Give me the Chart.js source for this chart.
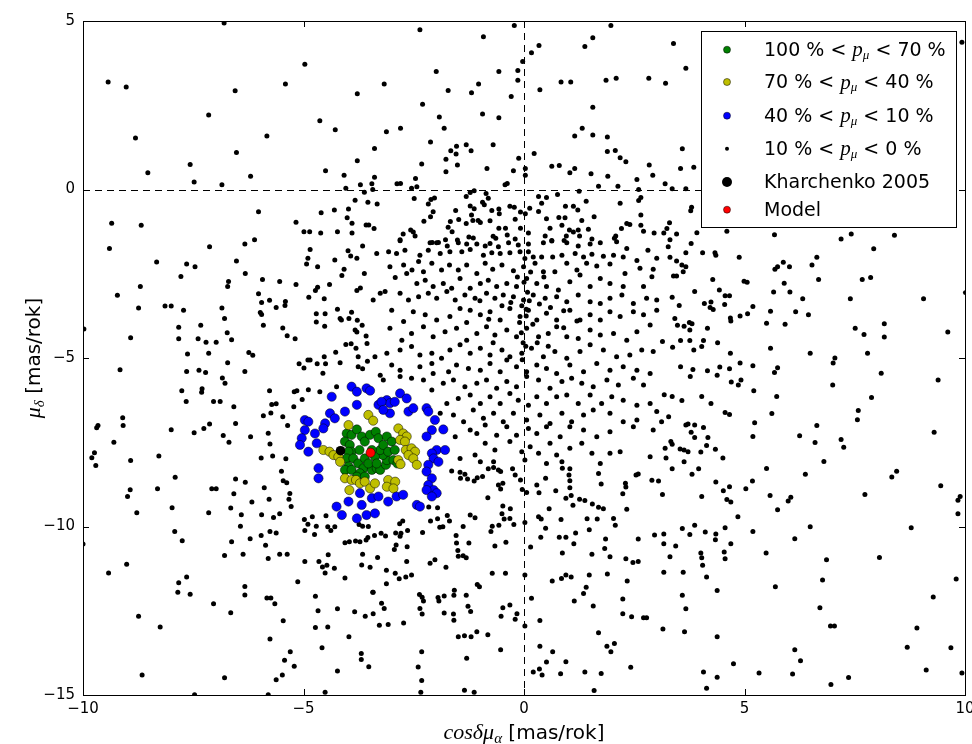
<!DOCTYPE html>
<html>
<head>
<meta charset="utf-8">
<script src="https://cdn.jsdelivr.net/npm/chart.js@4.4.0/dist/chart.umd.min.js"></script>
<style>
  html, body { margin: 0; padding: 0; background: #fff; }
  #wrap { width: 972px; height: 744px; }
</style>
</head>
<body>
<div id="wrap"><canvas id="chart" width="972" height="744"></canvas></div>
<script>
// axis setup
const xTicks = [-10, -5, 0, 5, 10];
const yTicks = [5, 0, -5, -10, -15];

// membership probability groups (x = cos(delta) mu_alpha, y = mu_delta, mas/rok)
const green = [[-4.02,-7.24],[-3.91,-7.28],[-3.79,-7.12],[-4.06,-7.48],[-3.95,-7.58],[-3.91,-7.78],[-3.73,-7.73],[-3.98,-7.78],
  [-4.02,-7.98],[-3.87,-7.98],[-3.76,-8.13],[-3.98,-8.22],[-4.06,-8.32],[-3.91,-8.32],[-3.64,-8.27],[-3.72,-8.42],[-3.79,-8.52],
  [-3.61,-8.52],[-3.45,-8.32],[-3.34,-8.27],[-3.26,-8.32],[-3.13,-8.17],[-3.11,-8.03],[-3.20,-7.88],[-3.38,-7.93],[-3.26,-7.73],
  [-3.45,-7.73],[-3.61,-7.98],[-3.68,-7.33],[-3.61,-7.48],[-3.49,-7.28],[-3.36,-7.19],[-3.30,-7.38],[-3.11,-7.33],[-3.00,-7.48],
  [-3.19,-7.58],[-3.08,-7.78],[-2.93,-7.73],[-2.96,-8.03],[-2.87,-8.13],[-3.53,-8.13],[-3.34,-8.13]];

const yellow = [[-3.98,-6.99],[-3.53,-6.69],[-3.42,-6.86],[-2.85,-7.09],[-2.74,-7.24],[-2.66,-7.33],[-2.81,-7.43],[-2.70,-7.48],
  [-2.68,-7.73],[-2.55,-7.68],[-2.47,-7.78],[-2.62,-7.88],[-2.51,-7.98],[-2.43,-8.17],[-4.55,-7.73],[-4.41,-7.78],[-4.32,-7.88],
  [-4.21,-7.93],[-4.17,-8.08],[-4.06,-8.57],[-3.91,-8.62],[-3.81,-8.62],[-3.72,-8.72],[-3.61,-8.67],[-3.49,-8.87],[-3.38,-8.72],
  [-3.96,-8.92],[-3.08,-8.62],[-3.11,-8.82],[-2.92,-8.67],[-2.96,-8.87],[-2.85,-8.03],[-2.80,-8.15]];

const blue = [[-3.91,-5.85],[-3.79,-6.00],[-3.57,-5.90],[-3.49,-5.97],[-4.36,-6.15],[-3.79,-6.39],[-4.06,-6.59],[-4.40,-6.64],
  [-4.29,-6.79],[-4.97,-6.84],[-4.89,-6.89],[-4.51,-6.94],[-4.74,-7.24],[-4.97,-7.14],[-5.04,-7.38],[-5.08,-7.58],[-4.89,-7.78],
  [-4.70,-7.53],[-4.55,-7.09],[-4.66,-8.27],[-4.66,-8.57],[-3.98,-9.26],[-3.72,-9.01],[-3.68,-9.36],[-3.45,-9.16],[-4.25,-9.41],
  [-4.13,-9.66],[-3.79,-9.76],[-3.57,-9.66],[-3.38,-9.61],[-3.30,-9.11],[-3.08,-9.26],[-2.89,-9.11],[-2.74,-9.06],[-3.11,-6.25],
  [-3.04,-6.34],[-2.93,-6.30],[-2.81,-6.05],[-2.66,-6.20],[-2.62,-6.59],[-2.51,-6.49],[-2.21,-6.49],[-2.17,-6.59],[-2.02,-6.84],
  [-1.83,-7.12],[-2.09,-7.14],[-2.21,-7.33],[-1.98,-7.73],[-1.79,-7.73],[-2.09,-7.83],[-2.05,-7.98],[-1.94,-8.08],[-2.17,-8.17],
  [-2.21,-8.37],[-2.09,-8.57],[-2.17,-8.77],[-2.05,-8.92],[-1.98,-9.01],[-2.21,-8.92],[-2.09,-9.11],[-2.43,-9.36],[-2.36,-9.41],
  [-3.30,-6.39],[-3.23,-6.30],[-3.04,-6.64],[-3.19,-6.54]];

const fieldTop = [[-9.43,3.19],[-9.02,3.04],[-6.80,4.94],[-4.97,3.72],[-5.41,3.13],[-6.55,2.93],[-3.78,2.84],[-7.15,2.21],
  [-4.63,2.04],[-4.28,1.77],[-8.81,1.53],[-5.83,1.59],[-6.52,1.10],[-3.78,0.85],[-7.57,0.74],[-8.53,0.50],[-4.50,0.56],
  [-4.08,0.42],[-6.20,0.39],[-7.48,0.22],[-6.85,0.14],[-3.71,0.14],[-4.04,0.04],[-3.62,-0.08],[-3.83,-0.32],[-3.54,-0.38],
  [-6.02,-0.66],[-4.60,-0.69],[-4.30,-0.61],[-3.98,-0.58],[-4.01,-0.84],[-9.35,-1.00],[-8.68,-1.06],[-5.17,-0.97],[-4.99,-1.25],
  [-4.86,-1.25],[-4.61,-1.29],[-4.23,-1.25],[-3.90,-1.00],[-3.90,-1.29],[-3.58,-1.05],[-3.52,-1.05],[-6.11,-1.49],
  [-2.36,4.74],[-0.92,4.53],[-0.22,4.87],[1.97,4.87],[1.56,4.50],[1.38,4.24],[0.34,4.27],[0.17,4.06],[-0.03,3.80],[-0.14,3.53],
  [-0.14,3.24],[-0.57,3.50],[-1.99,3.50],[-3.17,3.13],[-1.72,2.94],[-1.19,2.87],[-1.03,3.13],[-0.29,2.76],[0.36,2.96],[0.84,3.19],
  [1.06,3.19],[1.86,3.24],[2.09,3.30],[2.83,3.30],[-2.30,2.53],[1.56,2.44],[-1.92,2.15],[-0.94,2.24],[-0.57,2.13],[-1.81,1.82],
  [-2.80,1.82],[-3.12,1.71],[1.32,1.82],[1.15,1.59],[1.56,1.62],[1.89,1.56],[-3.39,1.22],[-2.12,1.41],[-1.31,1.33],[-0.70,1.33],
  [-1.66,1.15],[-1.53,1.28],[-1.54,1.05],[-1.20,1.15],[1.89,1.13],[2.07,1.16],[2.18,0.94],[2.31,0.82],[2.84,0.73],[2.92,0.42],
  [-1.77,0.90],[-1.51,0.73],[-2.32,0.76],[-1.77,0.53],[-0.84,0.62],[-0.12,0.93],[0.23,1.07],[-0.24,0.56],[0.03,0.62],[0.03,0.42],
  [0.63,0.69],[0.80,0.71],[1.15,0.62],[1.04,0.50],[1.52,0.47],[1.90,0.39],[1.69,0.10],[2.13,0.10],[2.56,0.30],[2.60,0.00],
  [-3.39,0.36],[-3.45,0.17],[-3.43,0.00],[-3.33,-0.43],[-3.40,-1.16],[-2.88,0.17],[-2.80,0.18],[-2.55,0.04],[-2.43,0.08],
  [-2.46,0.33],[-2.49,-0.27],[-2.17,-0.43],[-2.11,-0.30],[-2.03,-0.25],[-2.06,-0.66],[-2.12,-0.81],[-2.27,-0.94],[-2.57,-1.20],
  [-2.51,-1.26],[-2.74,-1.32],[-2.81,-1.49],[-2.47,-1.38],[-1.31,-0.21],[-1.22,-0.09],[-1.13,-0.04],[-0.86,-0.12],[-0.81,-0.26],
  [-0.38,0.18],[-0.43,0.14],[-1.22,-0.49],[-1.13,-0.57],[-0.94,-0.38],[-0.90,-0.45],[-1.55,-0.62],[-1.19,-0.76],[-1.04,-0.92],
  [-1.16,-0.92],[-0.99,-0.98],[-1.31,-1.01],[-1.48,-0.89],[-1.67,-0.95],[-1.72,-1.12],[-1.63,-1.25],[-1.51,-1.50],[-1.78,-1.49],
  [-1.94,-1.57],[-2.08,-1.57],[-1.25,-1.41],[-1.15,-1.44],[-0.73,-0.62],[-0.57,-0.58],[-0.56,-0.72],[-0.77,-0.93],[-0.57,-1.15],
  [-0.42,-1.15],[-0.70,-1.39],[-0.64,-1.45],[-0.38,-1.35],[-0.20,-1.47],[-0.32,-0.50],[-0.22,-0.53],[-0.20,-0.88],[-0.08,-0.67],
  [0.03,-0.72],[-0.08,-1.15],[0.10,-1.29],[0.13,-0.56],[0.33,-0.21],[0.40,-0.41],[0.51,-0.24],[0.33,-0.65],[0.51,-0.87],
  [0.59,-1.15],[0.48,-1.38],[0.63,-1.51],[0.76,-0.15],[0.94,-0.50],[1.12,-0.50],[1.22,-0.61],[0.79,-0.83],[0.93,-0.84],
  [0.86,-1.06],[1.03,-1.20],[1.12,-1.26],[1.23,-1.20],[1.31,-0.92],[1.41,-0.35],[1.25,-0.05],[1.59,-0.81],[1.46,-1.18],
  [0.96,-1.38],[0.91,-1.51],[1.26,-1.38],[1.54,-1.47],[2.18,-0.41],[2.65,-0.24],[2.60,-0.33],[2.65,-0.76],[2.33,-1.01],
  [2.40,-1.04],[2.21,-1.16],[2.65,-1.06],[2.71,-1.24],[2.08,-1.38],[2.05,-1.45],[2.95,-1.29],
  [3.39,4.33],[3.67,3.60],[3.21,3.15],[3.59,1.21],[3.55,0.62],[3.85,0.66],[3.20,0.17],[3.36,0.02],[3.67,0.02],[3.80,-0.53],
  [3.78,-0.63],[3.30,-0.99],[3.24,-1.16],[3.17,-1.29],[3.46,-1.32],[3.31,-1.49],[3.92,-1.28],[4.60,-1.24],[5.68,-1.34],
  [7.42,-1.32],[8.40,-1.36],[7.19,-1.47],[9.93,4.37]];

const fieldLeft = [[-9.40,-1.75],[-7.13,-1.70],[-6.33,-1.62],[-4.85,-1.78],[-3.99,-1.82],[-3.93,-1.97],[-3.79,-2.04],[-3.66,-1.68],
  [-4.90,-2.04],[-4.93,-2.21],[-4.68,-2.29],[-4.29,-2.09],[-8.33,-2.15],[-7.65,-2.21],[-7.46,-2.29],[-6.52,-2.12],[-6.32,-2.49],
  [-7.78,-2.58],[-4.08,-2.37],[-4.13,-2.55],[-3.62,-2.49],[-8.70,-2.88],[-9.22,-3.14],[-8.74,-3.52],[-8.14,-3.46],[-8.00,-3.46],
  [-7.72,-3.58],[-6.70,-2.73],[-6.72,-2.88],[-5.93,-2.67],[-5.54,-2.73],[-5.17,-2.82],[-4.68,-2.90],[-4.73,-3.00],[-4.41,-2.82],
  [-3.79,-3.00],[-3.71,-2.92],[-6.02,-3.09],[-5.95,-3.35],[-5.77,-3.29],[-5.62,-3.50],[-5.42,-3.44],[-5.41,-3.32],[-4.88,-3.20],
  [-4.53,-3.24],[-6.85,-3.52],[-5.98,-3.65],[-5.95,-3.71],[-6.79,-3.83],[-7.33,-4.03],[-7.83,-4.09],[-7.83,-4.43],[-7.39,-4.43],
  [-7.21,-4.53],[-6.98,-4.53],[-6.73,-4.25],[-6.63,-4.46],[-5.91,-4.03],[-5.47,-4.11],[-5.37,-4.34],[-5.19,-4.43],[-4.71,-3.69],
  [-4.71,-3.93],[-4.51,-3.69],[-4.52,-4.06],[-4.23,-3.55],[-4.17,-3.83],[-4.14,-3.87],[-3.91,-3.64],[-3.97,-3.83],[-3.78,-3.88],
  [-3.67,-4.03],[-3.83,-4.17],[-3.79,-4.23],[-3.58,-4.35],[-3.56,-4.57],[-4.04,-4.60],[-3.92,-4.58],[-3.81,-4.71],[-4.27,-4.83],
  [-8.92,-4.40],[-9.98,-4.14],[-7.63,-4.88],[-7.15,-4.86],[-6.24,-4.84],[-6.15,-4.92],[-6.72,-5.14],[-9.16,-5.35],[-7.65,-5.40],
  [-7.37,-5.36],[-7.22,-5.43],[-6.33,-5.40],[-6.84,-5.59],[-6.78,-5.75],[-7.76,-5.97],[-7.66,-6.29],[-7.30,-5.91],[-7.31,-6.02],
  [-7.04,-6.29],[-6.89,-6.29],[-6.58,-6.45],[-5.77,-5.97],[-5.21,-6.00],[-5.15,-5.97],[-5.10,-5.17],[-4.90,-5.06],[-4.85,-5.06],
  [-4.99,-5.30],[-4.69,-5.17],[-4.50,-5.17],[-4.53,-4.96],[-4.56,-5.45],[-4.17,-5.14],[-3.76,-4.96],[-3.76,-5.26],[-3.66,-5.32],
  [-3.55,-5.10],[-4.89,-5.94],[-4.63,-6.00],[-4.25,-5.85],[-5.03,-6.23],[-5.22,-6.45],[-5.72,-6.38],[-5.62,-6.36],[-5.91,-6.71],
  [-5.74,-6.63],[-5.47,-6.74],[-5.36,-7.00],[-9.10,-6.77],[-9.09,-7.00],[-9.66,-7.00],[-9.69,-7.07],[-8.00,-7.13],[-7.48,-7.22],
  [-7.26,-7.09],[-7.13,-6.96],[-6.54,-6.94],[-6.82,-7.30],[-6.69,-7.50],[-6.20,-7.34],[-5.80,-7.23],[-5.76,-7.55],[-9.30,-7.50],
  [-9.74,-7.81],[-9.80,-7.96],[-8.92,-8.04],[-8.28,-7.91],[-5.96,-7.97],[-5.70,-7.91],[-5.40,-7.99]];

const fieldCore = [[-2.81,-1.52],[-2.13,-1.58],[-1.98,-1.58],[-1.74,-1.68],[-1.49,-1.58],[-1.30,-1.62],[-1.07,-1.62],[-0.88,-1.68],
  [-0.77,-1.60],[-0.58,-1.70],[-0.35,-1.58],[-0.13,-1.65],[0.10,-1.62],[0.44,-1.58],[0.63,-1.53],[0.97,-1.58],[1.23,-1.68],
  [1.50,-1.62],[1.73,-1.58],[2.10,-1.55],[2.33,-1.75],[2.81,-1.80],[-3.34,-1.90],[-3.07,-1.85],[-2.89,-1.90],[-2.70,-1.80],
  [-2.36,-1.95],[-2.17,-1.80],[-1.90,-1.90],[-1.68,-1.85],[-1.41,-1.85],[-1.22,-1.78],[-0.92,-1.95],[-0.73,-1.88],[-0.54,-1.90],
  [-0.32,-1.88],[-0.09,-1.85],[0.21,-2.00],[0.40,-2.00],[0.65,-2.00],[0.86,-1.95],[1.16,-1.90],[1.35,-2.00],[1.54,-1.92],
  [1.80,-1.98],[2.03,-1.95],[2.25,-2.00],[2.56,-2.11],[3.01,-2.04],
  [-3.04,-2.29],[-2.73,-2.24],[-2.54,-2.39],[-2.39,-2.14],[-2.28,-2.44],[-2.09,-2.19],[-1.87,-2.39],[-1.69,-2.24],[-1.49,-2.39],
  [-1.30,-2.24],[-1.07,-2.49],[-0.88,-2.19],[-0.71,-2.37],[-0.50,-2.24],[-0.24,-2.41],[-0.01,-2.29],[0.25,-2.19],[0.44,-2.44],
  [0.70,-2.44],[0.97,-2.19],[1.20,-2.39],[1.42,-2.19],[1.65,-2.27],[1.95,-2.21],[2.29,-2.49],[2.63,-2.34],[2.93,-2.37],
  [-3.26,-3.08],[-2.92,-2.61],[-2.66,-2.49],[-2.43,-2.79],[-2.24,-2.69],[-2.06,-2.88],[-1.83,-2.79],[-1.64,-2.93],[-1.45,-2.64],
  [-1.22,-2.93],[-0.99,-2.79],[-0.81,-2.69],[-0.62,-2.88],[-0.39,-2.79],[-0.17,-2.88],[0.06,-2.64],[0.29,-2.79],[0.51,-2.88],
  [0.78,-2.98],[1.04,-2.74],[1.27,-2.54],[1.50,-2.88],[1.73,-2.64],[1.95,-2.79],[2.25,-2.88],[2.71,-2.88],[2.90,-2.59],
  [-3.42,-3.28],[-3.15,-3.03],[-2.81,-3.08],[-2.62,-3.28],[-2.39,-3.18],[-2.17,-3.08],[-1.98,-3.23],[-1.75,-3.03],[-1.56,-3.28],
  [-1.34,-3.13],[-1.11,-3.23],[-0.85,-3.08],[-0.66,-3.23],[-0.47,-3.13],[-0.24,-3.18],[-0.01,-3.28],[0.21,-3.13],[0.48,-3.23],
  [0.74,-3.18],[0.97,-3.33],[1.23,-3.13],[1.50,-3.33],[1.73,-3.38],[1.95,-3.23],[2.22,-3.13],[2.48,-3.38],[2.78,-3.23],[3.01,-3.28],
  [-3.00,-3.58],[-2.73,-3.92],[-2.51,-3.63],[-2.24,-3.72],[-1.98,-3.87],[-1.68,-3.77],[-1.45,-3.53],[-1.22,-3.58],[-0.99,-3.72],
  [-0.77,-3.63],[-0.54,-3.87],[-0.32,-3.53],[-0.09,-3.77],[0.10,-3.58],[0.29,-3.87],[0.51,-3.67],[0.74,-3.87],[1.04,-3.58],
  [1.27,-3.87],[1.50,-3.72],[1.73,-3.87],[1.95,-3.63],[2.18,-3.77],[2.48,-3.63],[2.71,-3.72],[3.01,-3.58],
  [-3.04,-4.12],[-2.77,-4.47],[-2.55,-4.27],[-2.28,-4.07],[-2.06,-4.37],[-1.79,-4.22],[-1.53,-4.12],[-1.30,-4.47],[-1.07,-4.27],
  [-0.85,-4.07],[-0.66,-4.32],[-0.39,-4.17],[-0.17,-4.37],[0.06,-4.12],[0.33,-4.37],[0.55,-4.27],[0.74,-4.07],[0.97,-4.37],
  [1.23,-4.42],[1.50,-4.17],[1.73,-4.32],[2.03,-4.27],[2.33,-4.47],[2.56,-4.22],[2.86,-4.02],
  [-0.05,-3.45],[0.05,-3.55],[0.12,-3.30],[-0.10,-3.95],[0.20,-4.00],[0.35,-3.40],[-0.30,-3.35],[0.15,-2.45],[-0.15,-2.60],[0.45,-2.60],
  [0.02,-2.05],[0.00,-2.75],[0.08,-3.05],[-0.02,-4.55],[0.04,-4.65],[-0.04,-5.05],[0.05,-3.75],[-0.06,-4.25],[0.10,-1.85],
  [0.30,-4.55],[-0.50,-3.45],[-0.80,-3.85],[0.60,-3.50],[0.90,-3.60],[-1.00,-3.30],[1.20,-3.90],[-1.30,-3.95],[0.90,-4.10],
  [-0.70,-4.55],[0.55,-4.65],
  [-3.38,-4.96],[-3.11,-4.86],[-2.81,-4.76],[-2.55,-4.66],[-2.36,-4.91],[-2.09,-4.86],[-1.87,-5.01],[-1.68,-4.76],[-1.45,-4.61],
  [-1.22,-4.86],[-0.99,-4.71],[-0.77,-4.91],[-0.50,-4.76],[-0.32,-4.96],[-0.05,-4.86],[0.17,-4.71],[0.44,-4.96],[0.70,-4.81],
  [0.97,-5.01],[1.27,-4.81],[1.50,-4.61],[1.80,-4.76],[2.10,-4.96],[2.40,-4.91],[2.67,-4.76],[2.93,-4.81],
  [-3.26,-5.51],[-3.00,-5.21],[-2.81,-5.36],[-2.36,-5.26],[-2.09,-5.16],[-1.71,-5.41],[-1.53,-5.21],[-1.26,-5.31],[-0.99,-5.36],
  [-0.77,-5.16],[-0.54,-5.41],[-0.39,-5.06],[-0.17,-5.26],[0.06,-5.41],[0.29,-5.21],[0.51,-5.31],[0.74,-5.46],[1.04,-5.21],
  [1.35,-5.41],[1.65,-5.16],[1.95,-5.36],[2.25,-5.26],[2.56,-5.36],[2.86,-5.46],
  [-3.19,-5.65],[-2.81,-5.55],[-2.55,-5.60],[-2.28,-5.65],[-2.06,-5.46],[-1.83,-5.75],[-1.60,-5.65],[-1.34,-5.85],[-1.07,-5.75],
  [-0.85,-5.65],[-0.62,-5.90],[-0.39,-5.70],[-0.17,-5.85],[0.06,-5.55],[0.33,-5.65],[0.59,-5.90],[0.86,-5.70],[1.08,-5.60],
  [1.31,-5.75],[1.57,-5.85],[1.88,-5.65],[2.14,-5.80],[2.48,-5.60],[2.71,-5.80],
  [-2.09,-5.95],[-1.75,-6.35],[-1.49,-6.20],[-1.22,-6.10],[-0.99,-6.35],[-0.77,-6.15],[-0.54,-6.35],[-0.32,-6.05],[-0.13,-6.25],
  [0.10,-6.40],[0.29,-6.15],[0.51,-6.35],[0.74,-6.15],[0.97,-6.10],[1.23,-6.35],[1.50,-6.10],[1.76,-6.35],[1.99,-6.15],
  [2.25,-6.25],[2.56,-6.40],[2.86,-6.35],
  [-1.90,-6.64],[-1.60,-6.69],[-1.37,-6.89],[-1.15,-6.54],[-0.92,-6.79],[-0.69,-6.64],[-0.47,-6.89],[-0.24,-6.64],[0.06,-6.84],
  [0.36,-6.69],[0.59,-6.94],[0.86,-6.64],[1.08,-6.89],[1.35,-6.69],[1.57,-6.54],[1.95,-6.64],[2.25,-6.89],[2.56,-6.84],[3.01,-6.59],
  [-1.56,-7.34],[-1.22,-7.14],[-1.07,-7.24],[-0.88,-6.99],[-0.62,-7.29],[-0.39,-7.04],[-0.17,-7.29],[0.10,-7.09],[0.29,-7.24],
  [0.51,-7.04],[0.82,-7.34],[1.04,-7.04],[1.35,-7.14],[1.65,-7.34],[1.95,-7.19],[2.48,-7.04],[2.93,-7.14],
  [-1.45,-7.98],[-1.11,-7.88],[-0.88,-7.53],[-0.66,-7.73],[-0.32,-7.48],[-0.05,-7.78],[0.14,-7.63],[0.33,-7.83],[0.59,-7.53],
  [0.74,-7.88],[1.04,-7.68],[1.31,-7.53],[1.54,-7.83],[1.95,-7.83],[2.18,-7.78],[2.86,-7.93],
  [-0.99,-8.08],[-0.69,-8.08],[0.02,-8.03],[0.51,-8.13],[0.86,-8.08],[1.73,-8.13]];

const fieldRight = [[3.27,-1.70],[3.79,-1.60],[3.31,-2.01],[3.46,-2.12],[3.58,-2.24],[3.67,-2.29],[3.61,-2.44],[3.67,-1.88],
  [4.05,-1.88],[4.33,-1.88],[4.35,-1.95],[4.88,-2.01],[3.39,-2.57],[3.46,-2.57],[4.28,-2.67],[3.87,-3.03],[4.43,-2.98],
  [4.56,-3.15],[4.66,-3.15],[4.99,-2.72],[5.06,-2.75],[5.69,-2.37],[5.75,-2.29],[5.88,-2.16],[6.02,-2.29],[6.53,-2.24],
  [6.64,-2.01],[6.68,-2.67],[7.93,-1.76],[7.67,-2.67],[7.86,-2.61],[5.90,-2.78],[5.66,-3.04],[6.03,-3.04],[6.32,-3.24],
  [7.40,-3.24],[9.06,-3.24],[10.01,-3.06],[3.36,-3.20],[3.52,-3.44],[4.09,-3.38],[4.24,-3.34],[4.22,-3.50],[4.29,-3.56],
  [4.55,-3.41],[5.19,-3.47],[4.90,-3.75],[5.07,-3.69],[5.59,-3.61],[5.50,-3.97],[6.16,-3.63],[6.45,-3.72],[5.92,-4.00],
  [4.68,-3.81],[4.69,-3.90],[3.42,-3.83],[3.48,-4.03],[3.63,-4.06],[3.75,-3.95],[3.81,-3.98],[3.76,-4.17],[4.16,-4.12],
  [3.14,-4.51],[3.37,-4.68],[3.55,-4.48],[3.76,-4.48],[4.07,-4.48],[3.85,-4.76],[4.03,-4.66],[4.39,-4.55],[4.68,-4.86],
  [5.59,-4.71],[7.51,-4.12],[7.71,-4.30],[8.17,-3.98],[8.17,-4.38],[7.79,-4.86],[6.49,-4.86],[7.05,-5.00],[7.01,-5.15],
  [9.61,-4.23],[3.55,-5.26],[3.83,-5.34],[3.77,-5.55],[4.16,-5.38],[4.38,-5.51],[4.44,-5.27],[4.66,-5.32],[4.90,-5.15],
  [5.19,-5.23],[4.70,-5.71],[4.86,-5.80],[4.92,-5.65],[5.21,-5.97],[5.75,-5.29],[5.68,-5.43],[5.73,-6.14],[7.00,-5.80],
  [8.10,-5.45],[9.39,-5.65],[7.88,-6.17],[7.58,-6.56],[7.56,-6.83],[3.18,-6.09],[3.36,-6.14],[3.58,-6.26],[4.03,-6.14],
  [4.24,-6.35],[3.12,-6.89],[3.28,-6.74],[4.56,-6.62],[4.66,-6.68],[3.67,-6.99],[3.72,-6.96],[3.87,-6.99],[4.07,-7.06],
  [3.79,-7.20],[3.87,-7.36],[4.17,-7.36],[4.14,-7.60],[3.33,-7.48],[3.36,-7.56],[3.20,-7.68],[3.22,-7.97],[3.54,-7.70],
  [3.63,-7.73],[3.72,-7.78],[4.01,-7.79],[4.34,-7.71],[4.51,-7.97],[3.63,-8.08],[5.23,-6.92],[5.19,-7.33],[5.62,-6.65],
  [6.64,-7.00],[6.25,-7.31],[6.60,-7.51],[7.19,-7.42],[7.25,-7.65],[6.80,-8.07],[9.30,-7.20]];

const fieldBottom = [[-9.71,-8.19],[-7.91,-8.54],[-8.93,-8.91],[-8.99,-9.11],[-8.31,-8.88],[-8.78,-9.59],[-7.98,-9.44],
  [-7.08,-8.88],[-6.98,-8.88],[-7.15,-9.59],[-7.92,-10.15],[-7.75,-10.42],[-10.00,-10.52],[-9.01,-11.12],[-9.42,-11.38],
  [-7.83,-11.67],[-7.65,-11.50],[-7.85,-11.95],[-7.57,-12.01],[-8.74,-12.66],[-8.25,-12.98],[-8.66,-14.41],[-7.04,-12.29],
  [-6.79,-10.86],[-6.65,-12.56],[-6.79,-14.49],[-6.63,-10.45],[-6.54,-8.59],[-6.58,-9.03],[-6.32,-8.69],[-6.65,-9.45],
  [-6.41,-9.65],[-6.43,-9.99],[-6.17,-9.27],[-6.21,-10.36],[-6.37,-10.82],[-6.33,-11.78],[-6.33,-12.03],[-5.89,-8.85],
  [-5.78,-9.19],[-5.95,-9.65],[-5.68,-9.73],[-5.54,-9.62],[-5.50,-8.36],[-5.46,-8.64],[-5.38,-8.70],[-5.31,-9.02],[-5.33,-9.19],
  [-5.28,-9.41],[-5.96,-10.27],[-5.86,-10.56],[-5.76,-10.15],[-5.62,-10.19],[-5.80,-10.95],[-5.54,-10.82],[-5.37,-10.82],
  [-5.83,-12.12],[-5.74,-12.12],[-5.65,-12.29],[-5.46,-12.80],[-5.76,-13.34],[-5.30,-13.72],[-5.43,-13.97],[-5.21,-14.15],
  [-5.48,-14.41],[-5.62,-14.55],[-5.13,-11.64],[-4.98,-9.79],[-4.90,-9.93],[-4.80,-9.71],[-4.97,-10.12],[-4.75,-10.24],
  [-4.71,-9.99],[-4.49,-9.68],[-4.45,-10.01],[-4.38,-10.12],[-4.29,-10.01],[-4.44,-10.84],[-4.97,-11.04],[-4.65,-11.04],
  [-4.57,-11.20],[-4.47,-11.15],[-4.51,-11.38],[-4.30,-11.24],[-4.06,-11.53],[-4.73,-12.07],[-4.67,-12.50],[-4.73,-13.00],
  [-4.45,-12.98],[-4.23,-12.44],[-4.58,-13.60],[-3.97,-13.27],[-4.23,-14.29],[-4.51,-14.92],[-3.84,-12.53],[-3.60,-12.66],
  [-3.69,-13.77],[-3.69,-13.95],[-3.52,-14.16],[-3.68,-11.14],[-3.49,-11.21],[-3.43,-11.95],[-3.66,-10.82],[-4.06,-10.48],
  [-3.96,-10.45],[-3.82,-10.43],[-3.72,-10.45],[-3.58,-10.40],[-3.54,-10.33],[-3.74,-9.94],[-3.66,-9.99],[-3.53,-10.00],
  [-7.47,-14.99],[-5.80,-14.99],
  [-1.64,-8.35],[-1.45,-8.39],[-1.34,-8.45],[-1.44,-8.57],[-1.28,-8.59],[-1.13,-8.65],[-1.06,-8.55],[-0.94,-8.52],[-0.81,-8.29],
  [-0.69,-8.25],[-0.58,-8.32],[-0.53,-8.37],[-0.26,-8.29],[-0.20,-8.47],[-0.08,-8.62],[-0.04,-8.90],[-0.58,-8.77],[-0.53,-8.89],
  [-0.48,-8.72],[0.06,-8.99],[0.29,-8.77],[0.49,-8.57],[0.34,-9.00],[0.72,-8.94],[0.87,-8.27],[1.04,-8.29],[1.04,-8.64],
  [1.02,-8.47],[1.04,-8.85],[0.95,-9.16],[1.07,-9.08],[1.11,-9.37],[1.26,-9.19],[1.38,-9.23],[1.55,-9.33],[1.69,-9.43],
  [1.80,-9.47],[1.69,-8.43],[1.75,-8.74],[2.30,-8.72],[2.31,-8.83],[2.24,-9.03],[2.54,-8.47],[2.59,-8.44],[2.90,-8.63],
  [3.05,-8.65],[2.33,-9.49],[-0.82,-9.15],[-0.48,-9.39],[-0.31,-9.47],[-0.50,-9.62],[-0.45,-9.78],[-0.32,-9.76],[-0.57,-9.96],
  [-0.23,-9.94],[-0.72,-9.99],[-0.75,-10.15],[-0.41,-10.47],[-0.66,-10.58],[0.02,-9.88],[0.33,-9.71],[0.39,-9.78],[0.57,-9.47],
  [0.49,-10.05],[0.38,-10.32],[0.15,-10.61],[0.84,-9.79],[0.80,-10.32],[0.95,-10.32],[1.17,-10.19],[1.13,-10.51],[0.87,-10.79],
  [1.43,-9.77],[1.48,-10.10],[1.66,-9.78],[2.03,-9.76],[2.07,-9.96],[1.85,-10.37],[1.83,-10.65],[1.54,-10.82],[1.95,-10.90],
  [2.31,-10.96],[2.47,-11.07],[2.59,-11.04],[2.59,-10.37],[2.96,-10.25],[0.64,-11.62],[0.85,-11.54],[0.95,-11.44],[1.07,-11.50],
  [1.48,-11.44],[1.89,-11.41],[2.34,-11.62],[1.41,-11.80],[1.35,-11.99],[1.14,-12.21],[1.57,-12.36],[2.24,-12.15],[2.24,-12.59],
  [2.44,-12.68],[2.71,-12.71],[2.78,-12.71],[0.17,-12.13],[0.36,-12.79],[0.02,-11.44],[0.02,-12.95],[1.69,-13.15],[1.88,-13.55],
  [2.05,-13.47],[1.97,-13.72],[0.36,-13.55],[0.65,-13.72],[0.51,-14.02],[0.21,-14.32],[0.35,-14.23],[0.41,-14.41],[0.83,-14.37],
  [0.95,-14.01],[1.38,-14.32],[1.75,-14.36],[2.42,-14.18],[1.59,-14.87],[-0.72,-11.39],[-0.42,-11.39],[-1.06,-11.72],
  [-1.01,-11.79],[-0.48,-12.41],[-0.32,-12.33],[-0.16,-12.59],[-0.20,-12.75],[-0.52,-12.66],[-0.82,-13.21],[-0.53,-13.66],
  [-1.30,-13.91],[-1.35,-14.86],[-1.13,-14.92],[-1.07,-13.12],[-1.20,-13.27],[-1.35,-13.24],[-1.49,-13.27],[-1.60,-12.60],
  [-1.59,-12.78],[-1.81,-12.57],[-1.31,-12.04],[-1.27,-12.37],[-1.21,-12.52],[-1.58,-11.89],[-1.59,-12.04],[-1.81,-12.06],
  [-1.95,-12.11],[-1.93,-12.21],[-2.28,-12.21],[-2.37,-12.02],[-2.31,-12.10],[-2.36,-12.43],[-2.31,-12.60],[-2.32,-13.72],
  [-2.40,-14.17],[-2.32,-14.57],[-2.34,-14.92],[-2.73,-12.86],[-3.08,-12.91],[-3.28,-12.93],[-3.42,-12.59],[-3.17,-12.43],
  [-3.23,-12.28],[-3.42,-11.95],[-3.12,-11.70],[-2.92,-11.39],[-2.83,-11.55],[-2.68,-11.50],[-2.55,-11.44],[-3.32,-10.92],
  [-3.12,-11.30],[-2.66,-11.04],[-2.94,-10.68],[-2.90,-10.55],[-2.65,-10.60],[-3.39,-10.27],[-3.24,-10.20],[-3.14,-10.28],
  [-2.91,-10.19],[-2.81,-10.29],[-2.79,-10.20],[-2.64,-10.12],[-2.30,-10.18],[-2.13,-11.09],[-2.02,-10.99],[-1.77,-11.21],
  [-1.49,-10.88],[-1.38,-10.87],[-1.31,-10.93],[-1.50,-10.71],[-1.53,-10.49],[-1.54,-10.27],[-1.25,-10.49],[-1.38,-10.00],
  [-2.12,-9.84],[-1.96,-9.77],[-1.74,-9.67],[-1.69,-9.84],[-1.91,-10.02],[-1.84,-10.01],[-2.16,-9.42],[-1.96,-9.44],
  [-1.22,-9.66],[-1.11,-9.74],[-2.82,-9.92],[-2.75,-9.84],
  [3.36,-8.29],[3.81,-8.45],[3.96,-8.29],[3.14,-9.05],[4.03,-9.11],[4.35,-8.68],[4.52,-8.94],[4.66,-8.82],[4.60,-9.20],
  [4.69,-9.27],[5.03,-8.88],[5.18,-8.65],[5.50,-8.28],[5.58,-9.08],[5.75,-9.50],[4.85,-9.71],[5.99,-9.24],[6.05,-9.13],
  [6.38,-8.45],[7.73,-9.05],[8.34,-8.53],[8.45,-8.36],[9.45,-8.79],[9.84,-9.22],[9.89,-9.11],[9.84,-9.62],[8.78,-10.04],
  [3.17,-10.22],[3.17,-10.51],[3.44,-10.58],[3.31,-10.90],[3.59,-10.06],[3.76,-10.24],[3.87,-9.96],[4.11,-10.16],[4.34,-10.39],
  [4.35,-10.22],[4.56,-10.04],[4.69,-10.51],[4.01,-10.79],[4.03,-10.93],[4.05,-11.15],[4.54,-10.76],[4.56,-10.96],[4.14,-11.50],
  [3.17,-11.36],[3.61,-11.36],[3.59,-12.04],[3.67,-12.44],[3.15,-13.04],[3.64,-13.12],[4.38,-11.90],[4.38,-13.27],[5.19,-10.15],
  [5.49,-10.79],[5.70,-11.79],[6.14,-10.36],[6.49,-10.01],[6.86,-10.99],[6.77,-11.59],[6.71,-12.41],[6.95,-12.95],[7.04,-12.95],
  [8.06,-10.92],[6.14,-13.66],[6.27,-13.98],[4.75,-14.07],[4.07,-14.32],[4.38,-14.47],[4.14,-14.80],[5.33,-14.35],[6.09,-14.38],
  [6.96,-14.69],[7.36,-14.48],[8.69,-13.58],[8.91,-13.01],[9.12,-14.26],[9.28,-12.09],[9.68,-13.60],[9.80,-11.56],[9.93,-14.35]];

const kharchenko = [[-4.16, -7.75]];
const model = [[-3.48, -7.81]];

const legendRows = [
  { parts: ['100 % < ', 'p', 'μ', ' < 70 %'], color: '#008000', r: 3.5, edge: true },
  { parts: ['70 % < ', 'p', 'μ', ' < 40 %'], color: '#bfbf00', r: 3.5, edge: true },
  { parts: ['40 % < ', 'p', 'μ', ' < 10 %'], color: '#0000ff', r: 3.5, edge: true },
  { parts: ['10 % < ', 'p', 'μ', ' < 0 %'], color: '#000000', r: 2, edge: false },
  { parts: ['Kharchenko 2005'], color: '#000000', r: 5, edge: false },
  { parts: ['Model'], color: '#ff0000', r: 3.5, edge: true }
];
const legendRowY = [49.7, 82, 115.7, 148.7, 182, 209.7];

const SANS = "'DejaVu Sans', sans-serif";
const SERIF = "'Liberation Serif', 'DejaVu Serif', serif";
const toPts = arr => arr.map(p => ({ x: p[0], y: p[1] }));
const fmt = v => (v < 0 ? '\u2212' + Math.abs(v) : String(v));

// draw text pieces: {t, font, dy}
function drawRuns(ctx, runs, x, y) {
  let cx = x;
  runs.forEach(r => {
    ctx.font = r.font;
    ctx.fillText(r.t, cx, y + (r.dy || 0));
    cx += ctx.measureText(r.t).width;
  });
}
function runsWidth(ctx, runs) {
  return runs.reduce((w, r) => { ctx.font = r.font; return w + ctx.measureText(r.t).width; }, 0);
}

const framePlugin = {
  id: 'frame',
  beforeDatasetsDraw(chart) {
    const { ctx, chartArea: a, scales: { x, y } } = chart;
    ctx.save();
    ctx.strokeStyle = '#000';
    ctx.lineWidth = 1;
    ctx.setLineDash([7, 5]);
    const x0 = Math.round(x.getPixelForValue(0)) + 0.5;
    const y0 = Math.round(y.getPixelForValue(0)) + 0.5;
    ctx.beginPath();
    ctx.moveTo(x0, a.top); ctx.lineTo(x0, a.bottom);
    ctx.moveTo(a.left, y0); ctx.lineTo(a.right, y0);
    ctx.stroke();
    ctx.restore();
  },
  afterDatasetsDraw(chart) {
    const { ctx, chartArea: a, scales: { x, y } } = chart;
    ctx.save();
    ctx.strokeStyle = '#000';
    ctx.lineWidth = 1;
    ctx.strokeRect(Math.round(a.left) + 0.5, Math.round(a.top) + 0.5,
      Math.round(a.right - a.left), Math.round(a.bottom - a.top));
    const tl = 6;
    ctx.beginPath();
    xTicks.forEach(v => {
      const px = Math.round(x.getPixelForValue(v)) + 0.5;
      ctx.moveTo(px, a.bottom); ctx.lineTo(px, a.bottom - tl);
      ctx.moveTo(px, a.top); ctx.lineTo(px, a.top + tl);
    });
    yTicks.forEach(v => {
      const py = Math.round(y.getPixelForValue(v)) + 0.5;
      ctx.moveTo(a.left, py); ctx.lineTo(a.left + tl, py);
      ctx.moveTo(a.right, py); ctx.lineTo(a.right - tl, py);
    });
    ctx.stroke();

    // axis titles
    ctx.fillStyle = '#000';
    ctx.textBaseline = 'alphabetic';
    const xr = [
      { t: 'cosδμ', font: 'italic 22px ' + SERIF },
      { t: 'α', font: 'italic 15px ' + SERIF, dy: 4 },
      { t: ' [mas/rok]', font: '20px ' + SANS }
    ];
    const xw = runsWidth(ctx, xr);
    drawRuns(ctx, xr, (a.left + a.right) / 2 - xw / 2, 739);

    const yr = [
      { t: 'μ', font: 'italic 22px ' + SERIF },
      { t: 'δ', font: 'italic 15px ' + SERIF, dy: 4 },
      { t: ' [mas/rok]', font: '20px ' + SANS }
    ];
    const yw = runsWidth(ctx, yr);
    ctx.translate(40, (a.top + a.bottom) / 2);
    ctx.rotate(-Math.PI / 2);
    drawRuns(ctx, yr, -yw / 2, 0);
    ctx.restore();
  },
  afterDraw(chart) {
    const { ctx } = chart;
    ctx.save();
    ctx.fillStyle = '#fff';
    ctx.fillRect(702, 31, 254, 196);
    ctx.strokeStyle = '#000';
    ctx.lineWidth = 1;
    ctx.strokeRect(701.5, 31.5, 255, 196);
    legendRows.forEach((row, i) => {
      const cy = legendRowY[i];
      ctx.beginPath();
      ctx.arc(727, cy, row.r, 0, Math.PI * 2);
      ctx.fillStyle = row.color;
      ctx.fill();
      if (row.edge) { ctx.strokeStyle = 'rgba(0,0,0,0.7)'; ctx.lineWidth = 0.7; ctx.stroke(); }
      ctx.fillStyle = '#000';
      ctx.textBaseline = 'middle';
      let runs;
      if (row.parts.length === 1) {
        runs = [{ t: row.parts[0], font: '19px ' + SANS }];
      } else {
        runs = [
          { t: row.parts[0], font: '19px ' + SANS },
          { t: row.parts[1], font: 'italic 21px ' + SERIF },
          { t: row.parts[2], font: 'italic 13px ' + SERIF, dy: 5 },
          { t: row.parts[3], font: '19px ' + SANS }
        ];
      }
      drawRuns(ctx, runs, 764, cy + 1);
    });
    ctx.restore();
  }
};

const coloured = (data, color, order) => ({
  data: toPts(data), backgroundColor: color, borderColor: 'rgba(0,0,0,0.7)', borderWidth: 0.7,
  pointRadius: 4.6, pointHoverRadius: 4.6, order: order, clip: 0
});

new Chart(document.getElementById('chart'), {
  type: 'scatter',
  data: {
    datasets: [
      coloured(green, '#008000', 4),
      coloured(yellow, '#bfbf00', 3),
      coloured(blue, '#0000ff', 2),
      {
        data: toPts([].concat(fieldTop, fieldLeft, fieldCore, fieldRight, fieldBottom)),
        backgroundColor: '#000', borderWidth: 0, pointRadius: 2.5, pointHoverRadius: 2.5, order: 5, clip: 0
      },
      { data: toPts(kharchenko), backgroundColor: '#000', borderWidth: 0, pointRadius: 4.8, order: 1, clip: 0 },
      { data: toPts(model), backgroundColor: '#ff0000', borderColor: 'rgba(0,0,0,0.7)', borderWidth: 0.7,
        pointRadius: 4.6, order: 0, clip: 0 }
    ]
  },
  options: {
    responsive: false,
    animation: false,
    events: [],
    layout: { padding: { left: 0, right: 7, top: 21, bottom: 0 } },
    plugins: { legend: { display: false }, tooltip: { enabled: false } },
    scales: {
      x: {
        type: 'linear', min: -10, max: 10,
        afterBuildTicks: s => { s.ticks = xTicks.map(v => ({ value: v })); },
        grid: { display: false, drawTicks: false },
        border: { display: false },
        ticks: { color: '#000', font: { family: SANS, size: 15 }, padding: 5, maxRotation: 0, autoSkip: false, callback: fmt },
        afterFit: s => { s.height = 49; s.paddingLeft = 0; s.paddingRight = 0; }
      },
      y: {
        type: 'linear', min: -15, max: 5,
        afterBuildTicks: s => { s.ticks = yTicks.map(v => ({ value: v })); },
        grid: { display: false, drawTicks: false },
        border: { display: false },
        ticks: { color: '#000', font: { family: SANS, size: 15 }, padding: 8, autoSkip: false, callback: fmt },
        afterFit: s => { s.width = 83; s.paddingTop = 0; s.paddingBottom = 0; }
      }
    }
  },
  plugins: [framePlugin]
});
</script>
</body>
</html>
